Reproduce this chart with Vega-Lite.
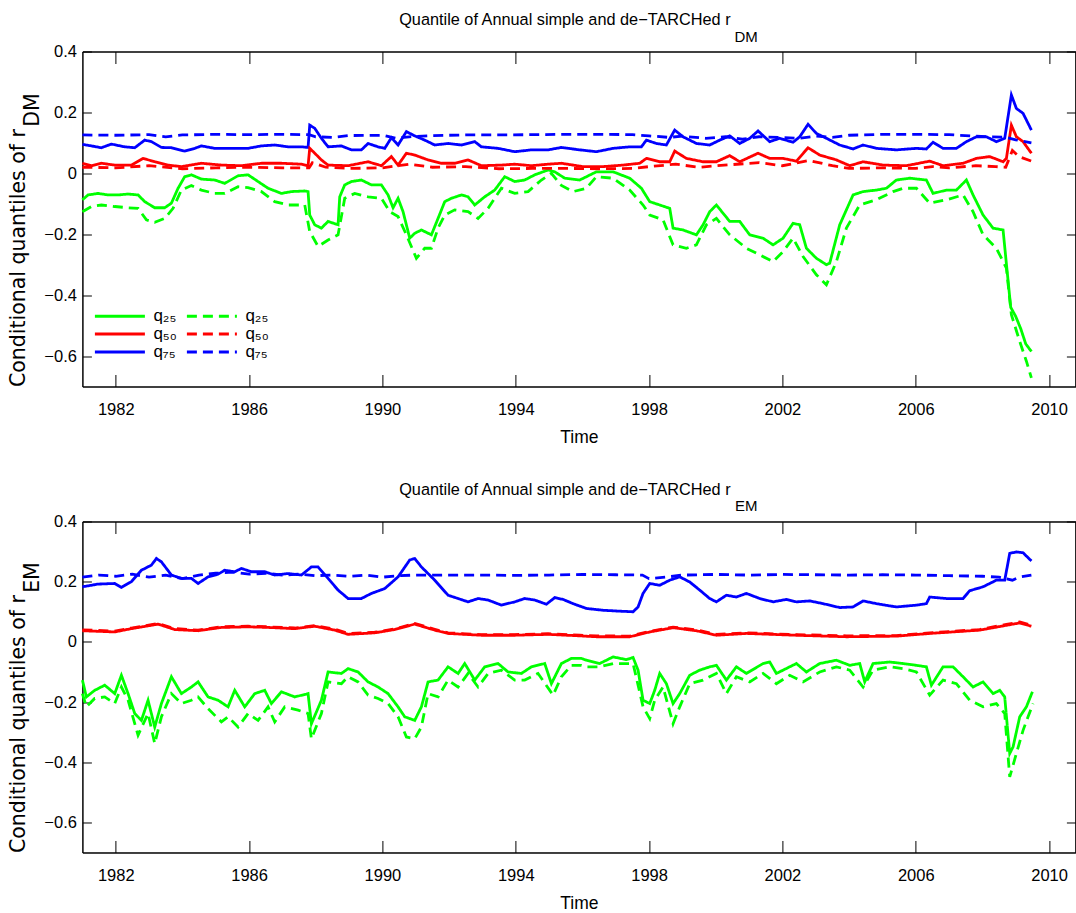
{
"$schema":"https://vega.github.io/schema/vega-lite/v6.json",
"background":"white",
"padding":{"left":7.4,"top":10.5,"right":0,"bottom":0},
"spacing":34,
"datasets":{"d":[
{"p":"DM","s":"q75","t":1981.0,"v":0.095},{"p":"DM","s":"q75","t":1981.27,"v":0.09},{"p":"DM","s":"q75","t":1981.57,"v":0.084},{"p":"DM","s":"q75","t":1981.87,"v":0.096},{"p":"DM","s":"q75","t":1982.27,"v":0.087},{"p":"DM","s":"q75","t":1982.57,"v":0.084},{"p":"DM","s":"q75","t":1982.87,"v":0.109},{"p":"DM","s":"q75","t":1983.07,"v":0.104},{"p":"DM","s":"q75","t":1983.37,"v":0.085},{"p":"DM","s":"q75","t":1983.67,"v":0.084},{"p":"DM","s":"q75","t":1984.07,"v":0.073},{"p":"DM","s":"q75","t":1984.37,"v":0.082},{"p":"DM","s":"q75","t":1984.57,"v":0.09},{"p":"DM","s":"q75","t":1984.97,"v":0.082},{"p":"DM","s":"q75","t":1985.47,"v":0.082},{"p":"DM","s":"q75","t":1985.97,"v":0.082},{"p":"DM","s":"q75","t":1986.37,"v":0.09},{"p":"DM","s":"q75","t":1986.77,"v":0.093},{"p":"DM","s":"q75","t":1987.17,"v":0.087},{"p":"DM","s":"q75","t":1987.57,"v":0.087},{"p":"DM","s":"q75","t":1987.77,"v":0.085},{"p":"DM","s":"q75","t":1987.82,"v":0.158},{"p":"DM","s":"q75","t":1987.97,"v":0.148},{"p":"DM","s":"q75","t":1988.17,"v":0.115},{"p":"DM","s":"q75","t":1988.37,"v":0.087},{"p":"DM","s":"q75","t":1988.77,"v":0.09},{"p":"DM","s":"q75","t":1989.07,"v":0.077},{"p":"DM","s":"q75","t":1989.37,"v":0.077},{"p":"DM","s":"q75","t":1989.57,"v":0.098},{"p":"DM","s":"q75","t":1989.87,"v":0.087},{"p":"DM","s":"q75","t":1990.07,"v":0.082},{"p":"DM","s":"q75","t":1990.27,"v":0.117},{"p":"DM","s":"q75","t":1990.47,"v":0.093},{"p":"DM","s":"q75","t":1990.72,"v":0.137},{"p":"DM","s":"q75","t":1990.97,"v":0.123},{"p":"DM","s":"q75","t":1991.27,"v":0.109},{"p":"DM","s":"q75","t":1991.57,"v":0.093},{"p":"DM","s":"q75","t":1991.97,"v":0.098},{"p":"DM","s":"q75","t":1992.37,"v":0.093},{"p":"DM","s":"q75","t":1992.77,"v":0.104},{"p":"DM","s":"q75","t":1992.97,"v":0.087},{"p":"DM","s":"q75","t":1993.47,"v":0.082},{"p":"DM","s":"q75","t":1993.97,"v":0.071},{"p":"DM","s":"q75","t":1994.47,"v":0.077},{"p":"DM","s":"q75","t":1994.97,"v":0.077},{"p":"DM","s":"q75","t":1995.37,"v":0.085},{"p":"DM","s":"q75","t":1995.92,"v":0.077},{"p":"DM","s":"q75","t":1996.42,"v":0.071},{"p":"DM","s":"q75","t":1996.92,"v":0.082},{"p":"DM","s":"q75","t":1997.42,"v":0.087},{"p":"DM","s":"q75","t":1997.77,"v":0.087},{"p":"DM","s":"q75","t":1997.92,"v":0.109},{"p":"DM","s":"q75","t":1998.22,"v":0.098},{"p":"DM","s":"q75","t":1998.52,"v":0.093},{"p":"DM","s":"q75","t":1998.77,"v":0.142},{"p":"DM","s":"q75","t":1999.02,"v":0.12},{"p":"DM","s":"q75","t":1999.42,"v":0.098},{"p":"DM","s":"q75","t":1999.82,"v":0.093},{"p":"DM","s":"q75","t":2000.12,"v":0.109},{"p":"DM","s":"q75","t":2000.42,"v":0.123},{"p":"DM","s":"q75","t":2000.72,"v":0.098},{"p":"DM","s":"q75","t":2001.02,"v":0.115},{"p":"DM","s":"q75","t":2001.27,"v":0.139},{"p":"DM","s":"q75","t":2001.62,"v":0.104},{"p":"DM","s":"q75","t":2001.92,"v":0.115},{"p":"DM","s":"q75","t":2002.32,"v":0.102},{"p":"DM","s":"q75","t":2002.52,"v":0.12},{"p":"DM","s":"q75","t":2002.77,"v":0.161},{"p":"DM","s":"q75","t":2003.02,"v":0.131},{"p":"DM","s":"q75","t":2003.32,"v":0.115},{"p":"DM","s":"q75","t":2003.72,"v":0.093},{"p":"DM","s":"q75","t":2004.12,"v":0.08},{"p":"DM","s":"q75","t":2004.42,"v":0.093},{"p":"DM","s":"q75","t":2004.82,"v":0.082},{"p":"DM","s":"q75","t":2005.42,"v":0.077},{"p":"DM","s":"q75","t":2006.02,"v":0.082},{"p":"DM","s":"q75","t":2006.32,"v":0.08},{"p":"DM","s":"q75","t":2006.52,"v":0.102},{"p":"DM","s":"q75","t":2006.82,"v":0.082},{"p":"DM","s":"q75","t":2007.22,"v":0.082},{"p":"DM","s":"q75","t":2007.52,"v":0.104},{"p":"DM","s":"q75","t":2007.82,"v":0.12},{"p":"DM","s":"q75","t":2008.12,"v":0.12},{"p":"DM","s":"q75","t":2008.42,"v":0.104},{"p":"DM","s":"q75","t":2008.67,"v":0.115},{"p":"DM","s":"q75","t":2008.87,"v":0.257},{"p":"DM","s":"q75","t":2009.02,"v":0.213},{"p":"DM","s":"q75","t":2009.22,"v":0.197},{"p":"DM","s":"q75","t":2009.47,"v":0.142},
{"p":"DM","s":"q75d","t":1981.0,"v":0.126},{"p":"DM","s":"q75d","t":1982.0,"v":0.125},{"p":"DM","s":"q75d","t":1983.0,"v":0.127},{"p":"DM","s":"q75d","t":1983.5,"v":0.12},{"p":"DM","s":"q75d","t":1984.0,"v":0.126},{"p":"DM","s":"q75d","t":1985.0,"v":0.128},{"p":"DM","s":"q75d","t":1986.0,"v":0.127},{"p":"DM","s":"q75d","t":1987.0,"v":0.128},{"p":"DM","s":"q75d","t":1987.8,"v":0.127},{"p":"DM","s":"q75d","t":1988.0,"v":0.12},{"p":"DM","s":"q75d","t":1988.5,"v":0.118},{"p":"DM","s":"q75d","t":1989.0,"v":0.124},{"p":"DM","s":"q75d","t":1990.0,"v":0.125},{"p":"DM","s":"q75d","t":1990.4,"v":0.115},{"p":"DM","s":"q75d","t":1990.8,"v":0.12},{"p":"DM","s":"q75d","t":1991.5,"v":0.124},{"p":"DM","s":"q75d","t":1992.5,"v":0.126},{"p":"DM","s":"q75d","t":1993.5,"v":0.126},{"p":"DM","s":"q75d","t":1994.5,"v":0.127},{"p":"DM","s":"q75d","t":1995.5,"v":0.128},{"p":"DM","s":"q75d","t":1996.5,"v":0.128},{"p":"DM","s":"q75d","t":1997.5,"v":0.127},{"p":"DM","s":"q75d","t":1998.0,"v":0.123},{"p":"DM","s":"q75d","t":1998.6,"v":0.118},{"p":"DM","s":"q75d","t":1999.0,"v":0.122},{"p":"DM","s":"q75d","t":1999.7,"v":0.115},{"p":"DM","s":"q75d","t":2000.3,"v":0.12},{"p":"DM","s":"q75d","t":2000.8,"v":0.112},{"p":"DM","s":"q75d","t":2001.3,"v":0.12},{"p":"DM","s":"q75d","t":2001.9,"v":0.118},{"p":"DM","s":"q75d","t":2002.5,"v":0.115},{"p":"DM","s":"q75d","t":2003.0,"v":0.122},{"p":"DM","s":"q75d","t":2003.5,"v":0.118},{"p":"DM","s":"q75d","t":2004.0,"v":0.125},{"p":"DM","s":"q75d","t":2005.0,"v":0.128},{"p":"DM","s":"q75d","t":2006.0,"v":0.128},{"p":"DM","s":"q75d","t":2007.0,"v":0.127},{"p":"DM","s":"q75d","t":2007.8,"v":0.122},{"p":"DM","s":"q75d","t":2008.3,"v":0.12},{"p":"DM","s":"q75d","t":2008.7,"v":0.118},{"p":"DM","s":"q75d","t":2009.0,"v":0.11},{"p":"DM","s":"q75d","t":2009.47,"v":0.1},
{"p":"DM","s":"q50","t":1981.0,"v":0.033},{"p":"DM","s":"q50","t":1981.27,"v":0.025},{"p":"DM","s":"q50","t":1981.57,"v":0.033},{"p":"DM","s":"q50","t":1981.97,"v":0.027},{"p":"DM","s":"q50","t":1982.47,"v":0.027},{"p":"DM","s":"q50","t":1982.82,"v":0.049},{"p":"DM","s":"q50","t":1983.17,"v":0.038},{"p":"DM","s":"q50","t":1983.57,"v":0.027},{"p":"DM","s":"q50","t":1983.97,"v":0.022},{"p":"DM","s":"q50","t":1984.57,"v":0.033},{"p":"DM","s":"q50","t":1985.17,"v":0.027},{"p":"DM","s":"q50","t":1985.77,"v":0.025},{"p":"DM","s":"q50","t":1986.37,"v":0.033},{"p":"DM","s":"q50","t":1986.97,"v":0.033},{"p":"DM","s":"q50","t":1987.57,"v":0.03},{"p":"DM","s":"q50","t":1987.77,"v":0.025},{"p":"DM","s":"q50","t":1987.82,"v":0.082},{"p":"DM","s":"q50","t":1987.97,"v":0.066},{"p":"DM","s":"q50","t":1988.17,"v":0.044},{"p":"DM","s":"q50","t":1988.37,"v":0.027},{"p":"DM","s":"q50","t":1988.97,"v":0.025},{"p":"DM","s":"q50","t":1989.57,"v":0.038},{"p":"DM","s":"q50","t":1989.97,"v":0.025},{"p":"DM","s":"q50","t":1990.27,"v":0.055},{"p":"DM","s":"q50","t":1990.47,"v":0.027},{"p":"DM","s":"q50","t":1990.72,"v":0.066},{"p":"DM","s":"q50","t":1990.97,"v":0.06},{"p":"DM","s":"q50","t":1991.37,"v":0.044},{"p":"DM","s":"q50","t":1991.77,"v":0.033},{"p":"DM","s":"q50","t":1992.17,"v":0.033},{"p":"DM","s":"q50","t":1992.57,"v":0.044},{"p":"DM","s":"q50","t":1992.97,"v":0.025},{"p":"DM","s":"q50","t":1993.57,"v":0.027},{"p":"DM","s":"q50","t":1993.97,"v":0.03},{"p":"DM","s":"q50","t":1994.47,"v":0.025},{"p":"DM","s":"q50","t":1994.97,"v":0.03},{"p":"DM","s":"q50","t":1995.37,"v":0.033},{"p":"DM","s":"q50","t":1996.02,"v":0.022},{"p":"DM","s":"q50","t":1996.62,"v":0.022},{"p":"DM","s":"q50","t":1997.22,"v":0.027},{"p":"DM","s":"q50","t":1997.72,"v":0.033},{"p":"DM","s":"q50","t":1997.92,"v":0.049},{"p":"DM","s":"q50","t":1998.32,"v":0.038},{"p":"DM","s":"q50","t":1998.62,"v":0.038},{"p":"DM","s":"q50","t":1998.77,"v":0.073},{"p":"DM","s":"q50","t":1999.12,"v":0.049},{"p":"DM","s":"q50","t":1999.62,"v":0.038},{"p":"DM","s":"q50","t":2000.02,"v":0.038},{"p":"DM","s":"q50","t":2000.42,"v":0.058},{"p":"DM","s":"q50","t":2000.72,"v":0.038},{"p":"DM","s":"q50","t":2001.27,"v":0.066},{"p":"DM","s":"q50","t":2001.62,"v":0.049},{"p":"DM","s":"q50","t":2002.02,"v":0.049},{"p":"DM","s":"q50","t":2002.42,"v":0.04},{"p":"DM","s":"q50","t":2002.77,"v":0.084},{"p":"DM","s":"q50","t":2003.12,"v":0.06},{"p":"DM","s":"q50","t":2003.62,"v":0.044},{"p":"DM","s":"q50","t":2004.02,"v":0.025},{"p":"DM","s":"q50","t":2004.42,"v":0.038},{"p":"DM","s":"q50","t":2005.02,"v":0.027},{"p":"DM","s":"q50","t":2005.72,"v":0.025},{"p":"DM","s":"q50","t":2006.42,"v":0.04},{"p":"DM","s":"q50","t":2006.82,"v":0.025},{"p":"DM","s":"q50","t":2007.42,"v":0.033},{"p":"DM","s":"q50","t":2007.82,"v":0.049},{"p":"DM","s":"q50","t":2008.22,"v":0.055},{"p":"DM","s":"q50","t":2008.62,"v":0.038},{"p":"DM","s":"q50","t":2008.72,"v":0.049},{"p":"DM","s":"q50","t":2008.87,"v":0.158},{"p":"DM","s":"q50","t":2009.02,"v":0.12},{"p":"DM","s":"q50","t":2009.22,"v":0.104},{"p":"DM","s":"q50","t":2009.47,"v":0.066},
{"p":"DM","s":"q50d","t":1981.0,"v":0.02},{"p":"DM","s":"q50d","t":1982.0,"v":0.018},{"p":"DM","s":"q50d","t":1983.0,"v":0.025},{"p":"DM","s":"q50d","t":1984.0,"v":0.015},{"p":"DM","s":"q50d","t":1985.0,"v":0.018},{"p":"DM","s":"q50d","t":1986.0,"v":0.02},{"p":"DM","s":"q50d","t":1987.0,"v":0.018},{"p":"DM","s":"q50d","t":1987.8,"v":0.018},{"p":"DM","s":"q50d","t":1987.9,"v":0.035},{"p":"DM","s":"q50d","t":1988.3,"v":0.02},{"p":"DM","s":"q50d","t":1989.0,"v":0.016},{"p":"DM","s":"q50d","t":1990.0,"v":0.018},{"p":"DM","s":"q50d","t":1990.8,"v":0.03},{"p":"DM","s":"q50d","t":1991.5,"v":0.02},{"p":"DM","s":"q50d","t":1992.5,"v":0.022},{"p":"DM","s":"q50d","t":1993.5,"v":0.015},{"p":"DM","s":"q50d","t":1994.5,"v":0.016},{"p":"DM","s":"q50d","t":1995.5,"v":0.016},{"p":"DM","s":"q50d","t":1996.5,"v":0.015},{"p":"DM","s":"q50d","t":1997.5,"v":0.016},{"p":"DM","s":"q50d","t":1998.0,"v":0.022},{"p":"DM","s":"q50d","t":1998.8,"v":0.03},{"p":"DM","s":"q50d","t":1999.5,"v":0.02},{"p":"DM","s":"q50d","t":2000.4,"v":0.028},{"p":"DM","s":"q50d","t":2001.3,"v":0.035},{"p":"DM","s":"q50d","t":2002.0,"v":0.025},{"p":"DM","s":"q50d","t":2002.8,"v":0.042},{"p":"DM","s":"q50d","t":2003.5,"v":0.025},{"p":"DM","s":"q50d","t":2004.0,"v":0.016},{"p":"DM","s":"q50d","t":2005.0,"v":0.018},{"p":"DM","s":"q50d","t":2006.0,"v":0.016},{"p":"DM","s":"q50d","t":2006.5,"v":0.022},{"p":"DM","s":"q50d","t":2007.0,"v":0.018},{"p":"DM","s":"q50d","t":2007.8,"v":0.025},{"p":"DM","s":"q50d","t":2008.4,"v":0.022},{"p":"DM","s":"q50d","t":2008.7,"v":0.02},{"p":"DM","s":"q50d","t":2008.9,"v":0.075},{"p":"DM","s":"q50d","t":2009.1,"v":0.055},{"p":"DM","s":"q50d","t":2009.47,"v":0.04},
{"p":"DM","s":"q25","t":1981.0,"v":-0.087},{"p":"DM","s":"q25","t":1981.17,"v":-0.071},{"p":"DM","s":"q25","t":1981.47,"v":-0.066},{"p":"DM","s":"q25","t":1981.77,"v":-0.071},{"p":"DM","s":"q25","t":1982.07,"v":-0.071},{"p":"DM","s":"q25","t":1982.37,"v":-0.068},{"p":"DM","s":"q25","t":1982.67,"v":-0.071},{"p":"DM","s":"q25","t":1982.87,"v":-0.093},{"p":"DM","s":"q25","t":1983.17,"v":-0.113},{"p":"DM","s":"q25","t":1983.47,"v":-0.113},{"p":"DM","s":"q25","t":1983.67,"v":-0.098},{"p":"DM","s":"q25","t":1983.87,"v":-0.049},{"p":"DM","s":"q25","t":1984.07,"v":-0.011},{"p":"DM","s":"q25","t":1984.27,"v":-0.005},{"p":"DM","s":"q25","t":1984.57,"v":-0.019},{"p":"DM","s":"q25","t":1984.97,"v":-0.022},{"p":"DM","s":"q25","t":1985.27,"v":-0.033},{"p":"DM","s":"q25","t":1985.67,"v":-0.008},{"p":"DM","s":"q25","t":1985.97,"v":-0.005},{"p":"DM","s":"q25","t":1986.27,"v":-0.027},{"p":"DM","s":"q25","t":1986.57,"v":-0.049},{"p":"DM","s":"q25","t":1986.97,"v":-0.066},{"p":"DM","s":"q25","t":1987.27,"v":-0.06},{"p":"DM","s":"q25","t":1987.67,"v":-0.058},{"p":"DM","s":"q25","t":1987.77,"v":-0.06},{"p":"DM","s":"q25","t":1987.82,"v":-0.137},{"p":"DM","s":"q25","t":1987.97,"v":-0.169},{"p":"DM","s":"q25","t":1988.17,"v":-0.18},{"p":"DM","s":"q25","t":1988.37,"v":-0.158},{"p":"DM","s":"q25","t":1988.67,"v":-0.169},{"p":"DM","s":"q25","t":1988.72,"v":-0.077},{"p":"DM","s":"q25","t":1988.87,"v":-0.038},{"p":"DM","s":"q25","t":1989.07,"v":-0.027},{"p":"DM","s":"q25","t":1989.37,"v":-0.022},{"p":"DM","s":"q25","t":1989.67,"v":-0.038},{"p":"DM","s":"q25","t":1989.97,"v":-0.038},{"p":"DM","s":"q25","t":1990.17,"v":-0.071},{"p":"DM","s":"q25","t":1990.32,"v":-0.113},{"p":"DM","s":"q25","t":1990.47,"v":-0.082},{"p":"DM","s":"q25","t":1990.62,"v":-0.126},{"p":"DM","s":"q25","t":1990.82,"v":-0.213},{"p":"DM","s":"q25","t":1990.97,"v":-0.197},{"p":"DM","s":"q25","t":1991.17,"v":-0.186},{"p":"DM","s":"q25","t":1991.47,"v":-0.202},{"p":"DM","s":"q25","t":1991.67,"v":-0.148},{"p":"DM","s":"q25","t":1991.87,"v":-0.093},{"p":"DM","s":"q25","t":1992.07,"v":-0.082},{"p":"DM","s":"q25","t":1992.37,"v":-0.071},{"p":"DM","s":"q25","t":1992.57,"v":-0.077},{"p":"DM","s":"q25","t":1992.77,"v":-0.104},{"p":"DM","s":"q25","t":1993.07,"v":-0.077},{"p":"DM","s":"q25","t":1993.37,"v":-0.055},{"p":"DM","s":"q25","t":1993.67,"v":-0.011},{"p":"DM","s":"q25","t":1993.97,"v":-0.027},{"p":"DM","s":"q25","t":1994.27,"v":-0.022},{"p":"DM","s":"q25","t":1994.57,"v":-0.005},{"p":"DM","s":"q25","t":1994.97,"v":0.011},{"p":"DM","s":"q25","t":1995.17,"v":0.005},{"p":"DM","s":"q25","t":1995.47,"v":-0.016},{"p":"DM","s":"q25","t":1995.92,"v":-0.022},{"p":"DM","s":"q25","t":1996.42,"v":0.005},{"p":"DM","s":"q25","t":1996.92,"v":0.005},{"p":"DM","s":"q25","t":1997.42,"v":-0.016},{"p":"DM","s":"q25","t":1997.77,"v":-0.049},{"p":"DM","s":"q25","t":1998.02,"v":-0.093},{"p":"DM","s":"q25","t":1998.32,"v":-0.104},{"p":"DM","s":"q25","t":1998.62,"v":-0.115},{"p":"DM","s":"q25","t":1998.72,"v":-0.18},{"p":"DM","s":"q25","t":1999.02,"v":-0.186},{"p":"DM","s":"q25","t":1999.42,"v":-0.202},{"p":"DM","s":"q25","t":1999.62,"v":-0.169},{"p":"DM","s":"q25","t":1999.82,"v":-0.126},{"p":"DM","s":"q25","t":2000.02,"v":-0.104},{"p":"DM","s":"q25","t":2000.42,"v":-0.158},{"p":"DM","s":"q25","t":2000.72,"v":-0.158},{"p":"DM","s":"q25","t":2001.02,"v":-0.202},{"p":"DM","s":"q25","t":2001.42,"v":-0.213},{"p":"DM","s":"q25","t":2001.72,"v":-0.235},{"p":"DM","s":"q25","t":2002.02,"v":-0.213},{"p":"DM","s":"q25","t":2002.32,"v":-0.164},{"p":"DM","s":"q25","t":2002.52,"v":-0.169},{"p":"DM","s":"q25","t":2002.72,"v":-0.246},{"p":"DM","s":"q25","t":2003.02,"v":-0.279},{"p":"DM","s":"q25","t":2003.32,"v":-0.3},{"p":"DM","s":"q25","t":2003.42,"v":-0.295},{"p":"DM","s":"q25","t":2003.72,"v":-0.169},{"p":"DM","s":"q25","t":2004.12,"v":-0.071},{"p":"DM","s":"q25","t":2004.42,"v":-0.06},{"p":"DM","s":"q25","t":2004.82,"v":-0.055},{"p":"DM","s":"q25","t":2005.12,"v":-0.049},{"p":"DM","s":"q25","t":2005.42,"v":-0.022},{"p":"DM","s":"q25","t":2005.82,"v":-0.016},{"p":"DM","s":"q25","t":2006.32,"v":-0.022},{"p":"DM","s":"q25","t":2006.52,"v":-0.066},{"p":"DM","s":"q25","t":2006.92,"v":-0.055},{"p":"DM","s":"q25","t":2007.22,"v":-0.055},{"p":"DM","s":"q25","t":2007.52,"v":-0.022},{"p":"DM","s":"q25","t":2007.72,"v":-0.071},{"p":"DM","s":"q25","t":2008.02,"v":-0.137},{"p":"DM","s":"q25","t":2008.32,"v":-0.18},{"p":"DM","s":"q25","t":2008.62,"v":-0.186},{"p":"DM","s":"q25","t":2008.75,"v":-0.33},{"p":"DM","s":"q25","t":2008.85,"v":-0.44},{"p":"DM","s":"q25","t":2009.0,"v":-0.47},{"p":"DM","s":"q25","t":2009.15,"v":-0.51},{"p":"DM","s":"q25","t":2009.3,"v":-0.56},{"p":"DM","s":"q25","t":2009.47,"v":-0.585},
{"p":"DM","s":"q25d","t":1981.0,"v":-0.126},{"p":"DM","s":"q25d","t":1981.27,"v":-0.109},{"p":"DM","s":"q25d","t":1981.57,"v":-0.104},{"p":"DM","s":"q25d","t":1981.97,"v":-0.109},{"p":"DM","s":"q25d","t":1982.37,"v":-0.113},{"p":"DM","s":"q25d","t":1982.67,"v":-0.115},{"p":"DM","s":"q25d","t":1982.92,"v":-0.153},{"p":"DM","s":"q25d","t":1983.17,"v":-0.161},{"p":"DM","s":"q25d","t":1983.47,"v":-0.148},{"p":"DM","s":"q25d","t":1983.72,"v":-0.115},{"p":"DM","s":"q25d","t":1983.97,"v":-0.055},{"p":"DM","s":"q25d","t":1984.27,"v":-0.04},{"p":"DM","s":"q25d","t":1984.57,"v":-0.055},{"p":"DM","s":"q25d","t":1984.97,"v":-0.066},{"p":"DM","s":"q25d","t":1985.27,"v":-0.066},{"p":"DM","s":"q25d","t":1985.67,"v":-0.044},{"p":"DM","s":"q25d","t":1985.97,"v":-0.047},{"p":"DM","s":"q25d","t":1986.37,"v":-0.06},{"p":"DM","s":"q25d","t":1986.77,"v":-0.093},{"p":"DM","s":"q25d","t":1987.17,"v":-0.104},{"p":"DM","s":"q25d","t":1987.67,"v":-0.104},{"p":"DM","s":"q25d","t":1987.82,"v":-0.191},{"p":"DM","s":"q25d","t":1988.07,"v":-0.24},{"p":"DM","s":"q25d","t":1988.37,"v":-0.219},{"p":"DM","s":"q25d","t":1988.67,"v":-0.202},{"p":"DM","s":"q25d","t":1988.87,"v":-0.082},{"p":"DM","s":"q25d","t":1989.17,"v":-0.066},{"p":"DM","s":"q25d","t":1989.57,"v":-0.077},{"p":"DM","s":"q25d","t":1989.97,"v":-0.082},{"p":"DM","s":"q25d","t":1990.22,"v":-0.126},{"p":"DM","s":"q25d","t":1990.47,"v":-0.142},{"p":"DM","s":"q25d","t":1990.72,"v":-0.202},{"p":"DM","s":"q25d","t":1991.02,"v":-0.279},{"p":"DM","s":"q25d","t":1991.27,"v":-0.246},{"p":"DM","s":"q25d","t":1991.47,"v":-0.246},{"p":"DM","s":"q25d","t":1991.67,"v":-0.18},{"p":"DM","s":"q25d","t":1991.87,"v":-0.137},{"p":"DM","s":"q25d","t":1992.17,"v":-0.12},{"p":"DM","s":"q25d","t":1992.57,"v":-0.126},{"p":"DM","s":"q25d","t":1992.87,"v":-0.148},{"p":"DM","s":"q25d","t":1993.17,"v":-0.115},{"p":"DM","s":"q25d","t":1993.57,"v":-0.049},{"p":"DM","s":"q25d","t":1993.97,"v":-0.066},{"p":"DM","s":"q25d","t":1994.37,"v":-0.06},{"p":"DM","s":"q25d","t":1994.77,"v":-0.022},{"p":"DM","s":"q25d","t":1995.07,"v":0.0},{"p":"DM","s":"q25d","t":1995.37,"v":-0.04},{"p":"DM","s":"q25d","t":1995.72,"v":-0.06},{"p":"DM","s":"q25d","t":1996.12,"v":-0.049},{"p":"DM","s":"q25d","t":1996.42,"v":-0.011},{"p":"DM","s":"q25d","t":1996.92,"v":-0.016},{"p":"DM","s":"q25d","t":1997.42,"v":-0.055},{"p":"DM","s":"q25d","t":1997.82,"v":-0.104},{"p":"DM","s":"q25d","t":1998.02,"v":-0.137},{"p":"DM","s":"q25d","t":1998.42,"v":-0.153},{"p":"DM","s":"q25d","t":1998.72,"v":-0.235},{"p":"DM","s":"q25d","t":1999.12,"v":-0.246},{"p":"DM","s":"q25d","t":1999.42,"v":-0.235},{"p":"DM","s":"q25d","t":1999.72,"v":-0.169},{"p":"DM","s":"q25d","t":2000.02,"v":-0.148},{"p":"DM","s":"q25d","t":2000.42,"v":-0.202},{"p":"DM","s":"q25d","t":2000.92,"v":-0.246},{"p":"DM","s":"q25d","t":2001.32,"v":-0.268},{"p":"DM","s":"q25d","t":2001.72,"v":-0.29},{"p":"DM","s":"q25d","t":2002.02,"v":-0.257},{"p":"DM","s":"q25d","t":2002.32,"v":-0.213},{"p":"DM","s":"q25d","t":2002.62,"v":-0.273},{"p":"DM","s":"q25d","t":2003.02,"v":-0.333},{"p":"DM","s":"q25d","t":2003.32,"v":-0.366},{"p":"DM","s":"q25d","t":2003.62,"v":-0.29},{"p":"DM","s":"q25d","t":2003.92,"v":-0.18},{"p":"DM","s":"q25d","t":2004.32,"v":-0.104},{"p":"DM","s":"q25d","t":2004.82,"v":-0.087},{"p":"DM","s":"q25d","t":2005.32,"v":-0.06},{"p":"DM","s":"q25d","t":2005.62,"v":-0.049},{"p":"DM","s":"q25d","t":2006.02,"v":-0.049},{"p":"DM","s":"q25d","t":2006.42,"v":-0.098},{"p":"DM","s":"q25d","t":2006.92,"v":-0.087},{"p":"DM","s":"q25d","t":2007.42,"v":-0.071},{"p":"DM","s":"q25d","t":2007.72,"v":-0.126},{"p":"DM","s":"q25d","t":2008.02,"v":-0.202},{"p":"DM","s":"q25d","t":2008.42,"v":-0.246},{"p":"DM","s":"q25d","t":2008.72,"v":-0.311},{"p":"DM","s":"q25d","t":2008.87,"v":-0.464},{"p":"DM","s":"q25d","t":2009.12,"v":-0.552},{"p":"DM","s":"q25d","t":2009.32,"v":-0.617},{"p":"DM","s":"q25d","t":2009.47,"v":-0.672},
{"p":"EM","s":"q75","t":1981.0,"v":0.183},{"p":"EM","s":"q75","t":1981.47,"v":0.192},{"p":"EM","s":"q75","t":1981.97,"v":0.194},{"p":"EM","s":"q75","t":1982.17,"v":0.181},{"p":"EM","s":"q75","t":1982.47,"v":0.2},{"p":"EM","s":"q75","t":1982.77,"v":0.238},{"p":"EM","s":"q75","t":1983.07,"v":0.255},{"p":"EM","s":"q75","t":1983.22,"v":0.277},{"p":"EM","s":"q75","t":1983.37,"v":0.266},{"p":"EM","s":"q75","t":1983.67,"v":0.222},{"p":"EM","s":"q75","t":1983.97,"v":0.211},{"p":"EM","s":"q75","t":1984.27,"v":0.211},{"p":"EM","s":"q75","t":1984.47,"v":0.194},{"p":"EM","s":"q75","t":1984.77,"v":0.216},{"p":"EM","s":"q75","t":1985.07,"v":0.225},{"p":"EM","s":"q75","t":1985.27,"v":0.238},{"p":"EM","s":"q75","t":1985.57,"v":0.233},{"p":"EM","s":"q75","t":1985.77,"v":0.244},{"p":"EM","s":"q75","t":1986.07,"v":0.233},{"p":"EM","s":"q75","t":1986.47,"v":0.233},{"p":"EM","s":"q75","t":1986.77,"v":0.222},{"p":"EM","s":"q75","t":1987.17,"v":0.227},{"p":"EM","s":"q75","t":1987.57,"v":0.222},{"p":"EM","s":"q75","t":1987.87,"v":0.249},{"p":"EM","s":"q75","t":1988.07,"v":0.249},{"p":"EM","s":"q75","t":1988.37,"v":0.211},{"p":"EM","s":"q75","t":1988.67,"v":0.172},{"p":"EM","s":"q75","t":1988.97,"v":0.144},{"p":"EM","s":"q75","t":1989.37,"v":0.144},{"p":"EM","s":"q75","t":1989.67,"v":0.161},{"p":"EM","s":"q75","t":1990.07,"v":0.177},{"p":"EM","s":"q75","t":1990.47,"v":0.216},{"p":"EM","s":"q75","t":1990.82,"v":0.272},{"p":"EM","s":"q75","t":1990.97,"v":0.277},{"p":"EM","s":"q75","t":1991.17,"v":0.249},{"p":"EM","s":"q75","t":1991.57,"v":0.205},{"p":"EM","s":"q75","t":1991.97,"v":0.155},{"p":"EM","s":"q75","t":1992.27,"v":0.144},{"p":"EM","s":"q75","t":1992.57,"v":0.133},{"p":"EM","s":"q75","t":1992.87,"v":0.144},{"p":"EM","s":"q75","t":1993.17,"v":0.139},{"p":"EM","s":"q75","t":1993.57,"v":0.122},{"p":"EM","s":"q75","t":1993.97,"v":0.133},{"p":"EM","s":"q75","t":1994.27,"v":0.144},{"p":"EM","s":"q75","t":1994.57,"v":0.139},{"p":"EM","s":"q75","t":1994.92,"v":0.125},{"p":"EM","s":"q75","t":1995.17,"v":0.147},{"p":"EM","s":"q75","t":1995.42,"v":0.141},{"p":"EM","s":"q75","t":1995.72,"v":0.127},{"p":"EM","s":"q75","t":1996.12,"v":0.111},{"p":"EM","s":"q75","t":1996.62,"v":0.105},{"p":"EM","s":"q75","t":1997.12,"v":0.102},{"p":"EM","s":"q75","t":1997.52,"v":0.1},{"p":"EM","s":"q75","t":1997.67,"v":0.116},{"p":"EM","s":"q75","t":1997.82,"v":0.161},{"p":"EM","s":"q75","t":1998.02,"v":0.194},{"p":"EM","s":"q75","t":1998.32,"v":0.188},{"p":"EM","s":"q75","t":1998.62,"v":0.205},{"p":"EM","s":"q75","t":1998.92,"v":0.216},{"p":"EM","s":"q75","t":1999.22,"v":0.199},{"p":"EM","s":"q75","t":1999.52,"v":0.172},{"p":"EM","s":"q75","t":1999.82,"v":0.144},{"p":"EM","s":"q75","t":2000.02,"v":0.133},{"p":"EM","s":"q75","t":2000.32,"v":0.155},{"p":"EM","s":"q75","t":2000.62,"v":0.149},{"p":"EM","s":"q75","t":2000.92,"v":0.161},{"p":"EM","s":"q75","t":2001.32,"v":0.144},{"p":"EM","s":"q75","t":2001.72,"v":0.133},{"p":"EM","s":"q75","t":2002.12,"v":0.141},{"p":"EM","s":"q75","t":2002.42,"v":0.133},{"p":"EM","s":"q75","t":2002.82,"v":0.136},{"p":"EM","s":"q75","t":2003.22,"v":0.127},{"p":"EM","s":"q75","t":2003.72,"v":0.114},{"p":"EM","s":"q75","t":2004.12,"v":0.116},{"p":"EM","s":"q75","t":2004.42,"v":0.136},{"p":"EM","s":"q75","t":2004.82,"v":0.127},{"p":"EM","s":"q75","t":2005.42,"v":0.116},{"p":"EM","s":"q75","t":2006.02,"v":0.122},{"p":"EM","s":"q75","t":2006.32,"v":0.127},{"p":"EM","s":"q75","t":2006.42,"v":0.149},{"p":"EM","s":"q75","t":2006.92,"v":0.144},{"p":"EM","s":"q75","t":2007.42,"v":0.144},{"p":"EM","s":"q75","t":2007.62,"v":0.17},{"p":"EM","s":"q75","t":2008.02,"v":0.183},{"p":"EM","s":"q75","t":2008.42,"v":0.205},{"p":"EM","s":"q75","t":2008.67,"v":0.205},{"p":"EM","s":"q75","t":2008.82,"v":0.294},{"p":"EM","s":"q75","t":2009.02,"v":0.299},{"p":"EM","s":"q75","t":2009.22,"v":0.296},{"p":"EM","s":"q75","t":2009.47,"v":0.269},
{"p":"EM","s":"q75d","t":1981.0,"v":0.215},{"p":"EM","s":"q75d","t":1981.5,"v":0.222},{"p":"EM","s":"q75d","t":1982.0,"v":0.218},{"p":"EM","s":"q75d","t":1982.5,"v":0.225},{"p":"EM","s":"q75d","t":1983.0,"v":0.215},{"p":"EM","s":"q75d","t":1983.5,"v":0.222},{"p":"EM","s":"q75d","t":1984.0,"v":0.21},{"p":"EM","s":"q75d","t":1984.5,"v":0.222},{"p":"EM","s":"q75d","t":1985.0,"v":0.228},{"p":"EM","s":"q75d","t":1985.5,"v":0.232},{"p":"EM","s":"q75d","t":1986.0,"v":0.225},{"p":"EM","s":"q75d","t":1986.5,"v":0.228},{"p":"EM","s":"q75d","t":1987.0,"v":0.222},{"p":"EM","s":"q75d","t":1987.5,"v":0.225},{"p":"EM","s":"q75d","t":1988.0,"v":0.22},{"p":"EM","s":"q75d","t":1988.5,"v":0.222},{"p":"EM","s":"q75d","t":1989.0,"v":0.218},{"p":"EM","s":"q75d","t":1989.5,"v":0.222},{"p":"EM","s":"q75d","t":1990.0,"v":0.215},{"p":"EM","s":"q75d","t":1990.5,"v":0.22},{"p":"EM","s":"q75d","t":1991.0,"v":0.222},{"p":"EM","s":"q75d","t":1992.0,"v":0.222},{"p":"EM","s":"q75d","t":1993.0,"v":0.222},{"p":"EM","s":"q75d","t":1994.0,"v":0.221},{"p":"EM","s":"q75d","t":1995.0,"v":0.222},{"p":"EM","s":"q75d","t":1996.0,"v":0.224},{"p":"EM","s":"q75d","t":1997.0,"v":0.223},{"p":"EM","s":"q75d","t":1997.8,"v":0.222},{"p":"EM","s":"q75d","t":1998.0,"v":0.21},{"p":"EM","s":"q75d","t":1998.5,"v":0.215},{"p":"EM","s":"q75d","t":1999.0,"v":0.222},{"p":"EM","s":"q75d","t":2000.0,"v":0.224},{"p":"EM","s":"q75d","t":2001.0,"v":0.222},{"p":"EM","s":"q75d","t":2002.0,"v":0.224},{"p":"EM","s":"q75d","t":2003.0,"v":0.223},{"p":"EM","s":"q75d","t":2004.0,"v":0.222},{"p":"EM","s":"q75d","t":2005.0,"v":0.223},{"p":"EM","s":"q75d","t":2006.0,"v":0.222},{"p":"EM","s":"q75d","t":2007.0,"v":0.22},{"p":"EM","s":"q75d","t":2008.0,"v":0.218},{"p":"EM","s":"q75d","t":2008.5,"v":0.215},{"p":"EM","s":"q75d","t":2008.9,"v":0.205},{"p":"EM","s":"q75d","t":2009.1,"v":0.215},{"p":"EM","s":"q75d","t":2009.47,"v":0.222},
{"p":"EM","s":"q50","t":1981.0,"v":0.037},{"p":"EM","s":"q50","t":1981.97,"v":0.033},{"p":"EM","s":"q50","t":1982.47,"v":0.044},{"p":"EM","s":"q50","t":1983.27,"v":0.059},{"p":"EM","s":"q50","t":1983.77,"v":0.041},{"p":"EM","s":"q50","t":1984.47,"v":0.037},{"p":"EM","s":"q50","t":1985.17,"v":0.048},{"p":"EM","s":"q50","t":1985.97,"v":0.05},{"p":"EM","s":"q50","t":1986.57,"v":0.048},{"p":"EM","s":"q50","t":1987.37,"v":0.044},{"p":"EM","s":"q50","t":1987.97,"v":0.052},{"p":"EM","s":"q50","t":1988.57,"v":0.039},{"p":"EM","s":"q50","t":1988.97,"v":0.025},{"p":"EM","s":"q50","t":1989.77,"v":0.03},{"p":"EM","s":"q50","t":1990.37,"v":0.041},{"p":"EM","s":"q50","t":1990.97,"v":0.059},{"p":"EM","s":"q50","t":1991.57,"v":0.039},{"p":"EM","s":"q50","t":1991.97,"v":0.028},{"p":"EM","s":"q50","t":1992.97,"v":0.022},{"p":"EM","s":"q50","t":1993.97,"v":0.022},{"p":"EM","s":"q50","t":1994.97,"v":0.025},{"p":"EM","s":"q50","t":1995.92,"v":0.02},{"p":"EM","s":"q50","t":1996.42,"v":0.017},{"p":"EM","s":"q50","t":1997.42,"v":0.017},{"p":"EM","s":"q50","t":1998.02,"v":0.033},{"p":"EM","s":"q50","t":1998.72,"v":0.047},{"p":"EM","s":"q50","t":1999.42,"v":0.037},{"p":"EM","s":"q50","t":2000.02,"v":0.022},{"p":"EM","s":"q50","t":2000.92,"v":0.028},{"p":"EM","s":"q50","t":2002.42,"v":0.022},{"p":"EM","s":"q50","t":2003.92,"v":0.017},{"p":"EM","s":"q50","t":2005.42,"v":0.019},{"p":"EM","s":"q50","t":2006.42,"v":0.028},{"p":"EM","s":"q50","t":2007.92,"v":0.039},{"p":"EM","s":"q50","t":2008.72,"v":0.055},{"p":"EM","s":"q50","t":2009.12,"v":0.063},{"p":"EM","s":"q50","t":2009.47,"v":0.052},
{"p":"EM","s":"q50d","t":1981.0,"v":0.04},{"p":"EM","s":"q50d","t":1981.97,"v":0.036},{"p":"EM","s":"q50d","t":1982.47,"v":0.046},{"p":"EM","s":"q50d","t":1983.27,"v":0.061},{"p":"EM","s":"q50d","t":1983.77,"v":0.044},{"p":"EM","s":"q50d","t":1984.47,"v":0.039},{"p":"EM","s":"q50d","t":1985.17,"v":0.05},{"p":"EM","s":"q50d","t":1985.97,"v":0.052},{"p":"EM","s":"q50d","t":1986.57,"v":0.05},{"p":"EM","s":"q50d","t":1987.37,"v":0.046},{"p":"EM","s":"q50d","t":1987.97,"v":0.054},{"p":"EM","s":"q50d","t":1988.57,"v":0.042},{"p":"EM","s":"q50d","t":1988.97,"v":0.028},{"p":"EM","s":"q50d","t":1989.77,"v":0.032},{"p":"EM","s":"q50d","t":1990.37,"v":0.043},{"p":"EM","s":"q50d","t":1990.97,"v":0.061},{"p":"EM","s":"q50d","t":1991.57,"v":0.042},{"p":"EM","s":"q50d","t":1991.97,"v":0.03},{"p":"EM","s":"q50d","t":1992.97,"v":0.024},{"p":"EM","s":"q50d","t":1993.97,"v":0.024},{"p":"EM","s":"q50d","t":1994.97,"v":0.027},{"p":"EM","s":"q50d","t":1995.92,"v":0.022},{"p":"EM","s":"q50d","t":1996.42,"v":0.02},{"p":"EM","s":"q50d","t":1997.42,"v":0.019},{"p":"EM","s":"q50d","t":1998.02,"v":0.035},{"p":"EM","s":"q50d","t":1998.72,"v":0.049},{"p":"EM","s":"q50d","t":1999.42,"v":0.04},{"p":"EM","s":"q50d","t":2000.02,"v":0.025},{"p":"EM","s":"q50d","t":2000.92,"v":0.03},{"p":"EM","s":"q50d","t":2002.42,"v":0.024},{"p":"EM","s":"q50d","t":2003.92,"v":0.02},{"p":"EM","s":"q50d","t":2005.42,"v":0.021},{"p":"EM","s":"q50d","t":2006.42,"v":0.03},{"p":"EM","s":"q50d","t":2007.92,"v":0.041},{"p":"EM","s":"q50d","t":2008.72,"v":0.058},{"p":"EM","s":"q50d","t":2009.12,"v":0.066},{"p":"EM","s":"q50d","t":2009.47,"v":0.055},
{"p":"EM","s":"q25","t":1981.0,"v":-0.127},{"p":"EM","s":"q25","t":1981.12,"v":-0.183},{"p":"EM","s":"q25","t":1981.37,"v":-0.161},{"p":"EM","s":"q25","t":1981.67,"v":-0.144},{"p":"EM","s":"q25","t":1981.97,"v":-0.172},{"p":"EM","s":"q25","t":1982.17,"v":-0.111},{"p":"EM","s":"q25","t":1982.37,"v":-0.172},{"p":"EM","s":"q25","t":1982.57,"v":-0.238},{"p":"EM","s":"q25","t":1982.77,"v":-0.261},{"p":"EM","s":"q25","t":1982.97,"v":-0.194},{"p":"EM","s":"q25","t":1983.17,"v":-0.283},{"p":"EM","s":"q25","t":1983.37,"v":-0.205},{"p":"EM","s":"q25","t":1983.67,"v":-0.116},{"p":"EM","s":"q25","t":1983.97,"v":-0.172},{"p":"EM","s":"q25","t":1984.27,"v":-0.15},{"p":"EM","s":"q25","t":1984.47,"v":-0.133},{"p":"EM","s":"q25","t":1984.77,"v":-0.183},{"p":"EM","s":"q25","t":1985.07,"v":-0.194},{"p":"EM","s":"q25","t":1985.37,"v":-0.216},{"p":"EM","s":"q25","t":1985.57,"v":-0.161},{"p":"EM","s":"q25","t":1985.87,"v":-0.216},{"p":"EM","s":"q25","t":1986.17,"v":-0.172},{"p":"EM","s":"q25","t":1986.47,"v":-0.161},{"p":"EM","s":"q25","t":1986.67,"v":-0.205},{"p":"EM","s":"q25","t":1986.97,"v":-0.166},{"p":"EM","s":"q25","t":1987.37,"v":-0.183},{"p":"EM","s":"q25","t":1987.77,"v":-0.172},{"p":"EM","s":"q25","t":1987.87,"v":-0.272},{"p":"EM","s":"q25","t":1988.17,"v":-0.194},{"p":"EM","s":"q25","t":1988.37,"v":-0.1},{"p":"EM","s":"q25","t":1988.77,"v":-0.105},{"p":"EM","s":"q25","t":1988.97,"v":-0.089},{"p":"EM","s":"q25","t":1989.27,"v":-0.1},{"p":"EM","s":"q25","t":1989.57,"v":-0.133},{"p":"EM","s":"q25","t":1989.87,"v":-0.15},{"p":"EM","s":"q25","t":1990.17,"v":-0.172},{"p":"EM","s":"q25","t":1990.47,"v":-0.216},{"p":"EM","s":"q25","t":1990.67,"v":-0.249},{"p":"EM","s":"q25","t":1990.97,"v":-0.261},{"p":"EM","s":"q25","t":1991.17,"v":-0.216},{"p":"EM","s":"q25","t":1991.37,"v":-0.133},{"p":"EM","s":"q25","t":1991.67,"v":-0.127},{"p":"EM","s":"q25","t":1991.97,"v":-0.083},{"p":"EM","s":"q25","t":1992.27,"v":-0.105},{"p":"EM","s":"q25","t":1992.47,"v":-0.072},{"p":"EM","s":"q25","t":1992.77,"v":-0.127},{"p":"EM","s":"q25","t":1993.07,"v":-0.083},{"p":"EM","s":"q25","t":1993.47,"v":-0.072},{"p":"EM","s":"q25","t":1993.77,"v":-0.1},{"p":"EM","s":"q25","t":1994.17,"v":-0.105},{"p":"EM","s":"q25","t":1994.47,"v":-0.083},{"p":"EM","s":"q25","t":1994.87,"v":-0.072},{"p":"EM","s":"q25","t":1995.07,"v":-0.139},{"p":"EM","s":"q25","t":1995.37,"v":-0.072},{"p":"EM","s":"q25","t":1995.67,"v":-0.055},{"p":"EM","s":"q25","t":1995.97,"v":-0.055},{"p":"EM","s":"q25","t":1996.12,"v":-0.061},{"p":"EM","s":"q25","t":1996.52,"v":-0.072},{"p":"EM","s":"q25","t":1996.92,"v":-0.05},{"p":"EM","s":"q25","t":1997.32,"v":-0.059},{"p":"EM","s":"q25","t":1997.52,"v":-0.052},{"p":"EM","s":"q25","t":1997.67,"v":-0.094},{"p":"EM","s":"q25","t":1997.82,"v":-0.194},{"p":"EM","s":"q25","t":1998.02,"v":-0.205},{"p":"EM","s":"q25","t":1998.17,"v":-0.161},{"p":"EM","s":"q25","t":1998.32,"v":-0.105},{"p":"EM","s":"q25","t":1998.52,"v":-0.139},{"p":"EM","s":"q25","t":1998.72,"v":-0.205},{"p":"EM","s":"q25","t":1998.92,"v":-0.172},{"p":"EM","s":"q25","t":1999.22,"v":-0.111},{"p":"EM","s":"q25","t":1999.52,"v":-0.094},{"p":"EM","s":"q25","t":1999.82,"v":-0.083},{"p":"EM","s":"q25","t":2000.02,"v":-0.078},{"p":"EM","s":"q25","t":2000.32,"v":-0.127},{"p":"EM","s":"q25","t":2000.62,"v":-0.083},{"p":"EM","s":"q25","t":2000.92,"v":-0.105},{"p":"EM","s":"q25","t":2001.42,"v":-0.072},{"p":"EM","s":"q25","t":2001.62,"v":-0.067},{"p":"EM","s":"q25","t":2001.82,"v":-0.105},{"p":"EM","s":"q25","t":2002.22,"v":-0.083},{"p":"EM","s":"q25","t":2002.42,"v":-0.072},{"p":"EM","s":"q25","t":2002.72,"v":-0.1},{"p":"EM","s":"q25","t":2003.12,"v":-0.072},{"p":"EM","s":"q25","t":2003.62,"v":-0.061},{"p":"EM","s":"q25","t":2004.02,"v":-0.078},{"p":"EM","s":"q25","t":2004.32,"v":-0.072},{"p":"EM","s":"q25","t":2004.47,"v":-0.133},{"p":"EM","s":"q25","t":2004.72,"v":-0.072},{"p":"EM","s":"q25","t":2005.22,"v":-0.067},{"p":"EM","s":"q25","t":2005.62,"v":-0.072},{"p":"EM","s":"q25","t":2006.02,"v":-0.078},{"p":"EM","s":"q25","t":2006.32,"v":-0.083},{"p":"EM","s":"q25","t":2006.47,"v":-0.144},{"p":"EM","s":"q25","t":2006.82,"v":-0.083},{"p":"EM","s":"q25","t":2007.12,"v":-0.083},{"p":"EM","s":"q25","t":2007.42,"v":-0.116},{"p":"EM","s":"q25","t":2007.72,"v":-0.15},{"p":"EM","s":"q25","t":2008.02,"v":-0.133},{"p":"EM","s":"q25","t":2008.32,"v":-0.172},{"p":"EM","s":"q25","t":2008.52,"v":-0.161},{"p":"EM","s":"q25","t":2008.67,"v":-0.183},{"p":"EM","s":"q25","t":2008.82,"v":-0.371},{"p":"EM","s":"q25","t":2008.92,"v":-0.349},{"p":"EM","s":"q25","t":2009.12,"v":-0.249},{"p":"EM","s":"q25","t":2009.32,"v":-0.216},{"p":"EM","s":"q25","t":2009.5,"v":-0.166},
{"p":"EM","s":"q25d","t":1981.0,"v":-0.172},{"p":"EM","s":"q25d","t":1981.12,"v":-0.216},{"p":"EM","s":"q25d","t":1981.37,"v":-0.188},{"p":"EM","s":"q25d","t":1981.67,"v":-0.183},{"p":"EM","s":"q25d","t":1981.97,"v":-0.205},{"p":"EM","s":"q25d","t":1982.17,"v":-0.15},{"p":"EM","s":"q25d","t":1982.37,"v":-0.194},{"p":"EM","s":"q25d","t":1982.67,"v":-0.31},{"p":"EM","s":"q25d","t":1982.97,"v":-0.238},{"p":"EM","s":"q25d","t":1983.17,"v":-0.338},{"p":"EM","s":"q25d","t":1983.37,"v":-0.249},{"p":"EM","s":"q25d","t":1983.67,"v":-0.172},{"p":"EM","s":"q25d","t":1983.97,"v":-0.205},{"p":"EM","s":"q25d","t":1984.27,"v":-0.194},{"p":"EM","s":"q25d","t":1984.47,"v":-0.183},{"p":"EM","s":"q25d","t":1984.77,"v":-0.222},{"p":"EM","s":"q25d","t":1985.17,"v":-0.266},{"p":"EM","s":"q25d","t":1985.37,"v":-0.249},{"p":"EM","s":"q25d","t":1985.67,"v":-0.283},{"p":"EM","s":"q25d","t":1985.97,"v":-0.238},{"p":"EM","s":"q25d","t":1986.27,"v":-0.261},{"p":"EM","s":"q25d","t":1986.57,"v":-0.216},{"p":"EM","s":"q25d","t":1986.77,"v":-0.266},{"p":"EM","s":"q25d","t":1987.07,"v":-0.216},{"p":"EM","s":"q25d","t":1987.47,"v":-0.227},{"p":"EM","s":"q25d","t":1987.77,"v":-0.238},{"p":"EM","s":"q25d","t":1987.87,"v":-0.322},{"p":"EM","s":"q25d","t":1988.17,"v":-0.238},{"p":"EM","s":"q25d","t":1988.37,"v":-0.133},{"p":"EM","s":"q25d","t":1988.77,"v":-0.139},{"p":"EM","s":"q25d","t":1988.97,"v":-0.116},{"p":"EM","s":"q25d","t":1989.27,"v":-0.133},{"p":"EM","s":"q25d","t":1989.57,"v":-0.177},{"p":"EM","s":"q25d","t":1989.87,"v":-0.188},{"p":"EM","s":"q25d","t":1990.17,"v":-0.205},{"p":"EM","s":"q25d","t":1990.47,"v":-0.249},{"p":"EM","s":"q25d","t":1990.72,"v":-0.316},{"p":"EM","s":"q25d","t":1990.97,"v":-0.322},{"p":"EM","s":"q25d","t":1991.17,"v":-0.283},{"p":"EM","s":"q25d","t":1991.37,"v":-0.172},{"p":"EM","s":"q25d","t":1991.67,"v":-0.183},{"p":"EM","s":"q25d","t":1991.97,"v":-0.127},{"p":"EM","s":"q25d","t":1992.27,"v":-0.15},{"p":"EM","s":"q25d","t":1992.57,"v":-0.105},{"p":"EM","s":"q25d","t":1992.87,"v":-0.15},{"p":"EM","s":"q25d","t":1993.17,"v":-0.105},{"p":"EM","s":"q25d","t":1993.57,"v":-0.094},{"p":"EM","s":"q25d","t":1993.97,"v":-0.127},{"p":"EM","s":"q25d","t":1994.27,"v":-0.127},{"p":"EM","s":"q25d","t":1994.67,"v":-0.105},{"p":"EM","s":"q25d","t":1995.12,"v":-0.177},{"p":"EM","s":"q25d","t":1995.37,"v":-0.116},{"p":"EM","s":"q25d","t":1995.67,"v":-0.078},{"p":"EM","s":"q25d","t":1995.97,"v":-0.078},{"p":"EM","s":"q25d","t":1996.12,"v":-0.083},{"p":"EM","s":"q25d","t":1996.52,"v":-0.083},{"p":"EM","s":"q25d","t":1996.92,"v":-0.072},{"p":"EM","s":"q25d","t":1997.52,"v":-0.072},{"p":"EM","s":"q25d","t":1997.82,"v":-0.216},{"p":"EM","s":"q25d","t":1998.02,"v":-0.255},{"p":"EM","s":"q25d","t":1998.17,"v":-0.194},{"p":"EM","s":"q25d","t":1998.42,"v":-0.15},{"p":"EM","s":"q25d","t":1998.72,"v":-0.272},{"p":"EM","s":"q25d","t":1998.92,"v":-0.216},{"p":"EM","s":"q25d","t":1999.22,"v":-0.139},{"p":"EM","s":"q25d","t":1999.62,"v":-0.127},{"p":"EM","s":"q25d","t":2000.02,"v":-0.105},{"p":"EM","s":"q25d","t":2000.32,"v":-0.172},{"p":"EM","s":"q25d","t":2000.62,"v":-0.116},{"p":"EM","s":"q25d","t":2001.02,"v":-0.133},{"p":"EM","s":"q25d","t":2001.42,"v":-0.105},{"p":"EM","s":"q25d","t":2001.82,"v":-0.139},{"p":"EM","s":"q25d","t":2002.22,"v":-0.111},{"p":"EM","s":"q25d","t":2002.62,"v":-0.133},{"p":"EM","s":"q25d","t":2003.12,"v":-0.1},{"p":"EM","s":"q25d","t":2003.62,"v":-0.083},{"p":"EM","s":"q25d","t":2004.02,"v":-0.094},{"p":"EM","s":"q25d","t":2004.42,"v":-0.15},{"p":"EM","s":"q25d","t":2004.72,"v":-0.094},{"p":"EM","s":"q25d","t":2005.22,"v":-0.083},{"p":"EM","s":"q25d","t":2005.62,"v":-0.089},{"p":"EM","s":"q25d","t":2006.02,"v":-0.1},{"p":"EM","s":"q25d","t":2006.42,"v":-0.177},{"p":"EM","s":"q25d","t":2006.82,"v":-0.127},{"p":"EM","s":"q25d","t":2007.22,"v":-0.139},{"p":"EM","s":"q25d","t":2007.62,"v":-0.194},{"p":"EM","s":"q25d","t":2008.02,"v":-0.216},{"p":"EM","s":"q25d","t":2008.42,"v":-0.205},{"p":"EM","s":"q25d","t":2008.67,"v":-0.238},{"p":"EM","s":"q25d","t":2008.82,"v":-0.449},{"p":"EM","s":"q25d","t":2009.02,"v":-0.371},{"p":"EM","s":"q25d","t":2009.22,"v":-0.294},{"p":"EM","s":"q25d","t":2009.37,"v":-0.249},{"p":"EM","s":"q25d","t":2009.52,"v":-0.205}
]},
"data":{"name":"d"},
"resolve":{"scale":{"color":"independent","strokeDash":"independent"}},
"vconcat":[
{
"width":993,"height":335,
"title":{"text":"Quantile of Annual simple and de\u2212TARCHed r","subtitle":"\u200c\u2003\u2003\u2003\u2003\u2003\u2003\u2003\u2003\u2003\u2003\u2003\u2003\u2003\u2003\u2003\u2003\u2003\u2003\u2003\u2003\u2003\u2003\u2003\u2003\u2009DM"},
"transform":[{"filter":"datum.p == 'DM'"}],
"resolve":{"axis":{"x":"independent","y":"independent"}},
"layer":[
{"transform":[{"filter":"length(datum.s) == 3"}],
"mark":{"type":"line","strokeWidth":2.8},
"encoding":{
"x":{"field":"t","type":"quantitative","scale":{"domain":[1981,2010.79],"nice":false,"zero":false},"axis":{"orient":"bottom","values":[1982,1986,1990,1994,1998,2002,2006,2010],"format":"d","title":"Time","tickSize":-12,"labelPadding":27.4,"titlePadding":10}},
"y":{"field":"v","type":"quantitative","scale":{"domain":[-0.7,0.4],"nice":false,"zero":false},"axis":{"orient":"left","values":[-0.6,-0.4,-0.2,0,0.2,0.4],"format":"~g","title":["Conditional quantiles of r","\u200c\u2003\u2003\u2003\u2003\u2003\u2003\u2003\u2003\u2003\u2003\u2003\u2003\u2002\u2009DM"],"tickSize":-9,"labelPadding":15,"titlePadding":1,"titleAnchor":"start","titleFont":"DejaVu Sans","titleFontSize":20.5,"titleLineHeight":14}},
"color":{"field":"s","type":"nominal","scale":{"domain":["q25","q50","q75","q25d","q50d","q75d"],"range":["#00ff00","#ff0000","#0000ff","#00ff00","#ff0000","#0000ff"]},
"legend":{"title":null,"orient":"none","legendX":29,"legendY":256,"columns":2,"columnPadding":3,"rowPadding":0,"symbolType":"M-5,0H5","symbolSize":100,"symbolStrokeWidth":3,"labelFontSize":17,"labelOffset":25,"padding":0,"labelExpr":"indexof(datum.value,'25') >= 0 ? 'q₂₅' : indexof(datum.value,'50') >= 0 ? 'q₅₀' : 'q₇₅'"}},
"strokeDash":{"field":"s","type":"nominal","scale":{"domain":["q25","q50","q75","q25d","q50d","q75d"],"range":[[1,0],[1,0],[1,0],[10,6],[10,6],[10,6]]},
"legend":{"title":null,"orient":"none","legendX":29,"legendY":256,"columns":2,"columnPadding":3,"rowPadding":0,"symbolType":"M-5,0H5","symbolSize":100,"symbolStrokeWidth":3,"labelFontSize":17,"labelOffset":25,"padding":0,"labelExpr":"indexof(datum.value,'25') >= 0 ? 'q₂₅' : indexof(datum.value,'50') >= 0 ? 'q₅₀' : 'q₇₅'"}}
}},
{"transform":[{"filter":"length(datum.s) == 4"}],
"mark":{"type":"line","strokeWidth":2.8},
"encoding":{
"x":{"field":"t","type":"quantitative","scale":{"domain":[1981,2010.79],"nice":false,"zero":false},"axis":{"orient":"top","values":[1982,1986,1990,1994,1998,2002,2006,2010],"labels":false,"title":null,"tickSize":-12}},
"y":{"field":"v","type":"quantitative","scale":{"domain":[-0.7,0.4],"nice":false,"zero":false},"axis":{"orient":"right","values":[-0.6,-0.4,-0.2,0,0.2,0.4],"labels":false,"title":null,"tickSize":-9}},
"color":{"field":"s","type":"nominal","scale":{"domain":["q25","q50","q75","q25d","q50d","q75d"],"range":["#00ff00","#ff0000","#0000ff","#00ff00","#ff0000","#0000ff"]}},
"strokeDash":{"field":"s","type":"nominal","scale":{"domain":["q25","q50","q75","q25d","q50d","q75d"],"range":[[1,0],[1,0],[1,0],[10,6],[10,6],[10,6]]}}
}}
]
},
{
"width":993,"height":331,
"title":{"text":"Quantile of Annual simple and de\u2212TARCHed r","subtitle":"\u200c\u2003\u2003\u2003\u2003\u2003\u2003\u2003\u2003\u2003\u2003\u2003\u2003\u2003\u2003\u2003\u2003\u2003\u2003\u2003\u2003\u2003\u2003\u2003\u2003\u2009EM"},
"transform":[{"filter":"datum.p == 'EM'"}],
"resolve":{"axis":{"x":"independent","y":"independent"}},
"layer":[
{"transform":[{"filter":"length(datum.s) == 3"}],
"mark":{"type":"line","strokeWidth":2.8},
"encoding":{
"x":{"field":"t","type":"quantitative","scale":{"domain":[1981,2010.79],"nice":false,"zero":false},"axis":{"orient":"bottom","values":[1982,1986,1990,1994,1998,2002,2006,2010],"format":"d","title":"Time","tickSize":-12,"labelPadding":27.4,"titlePadding":10}},
"y":{"field":"v","type":"quantitative","scale":{"domain":[-0.7,0.4],"nice":false,"zero":false},"axis":{"orient":"left","values":[-0.6,-0.4,-0.2,0,0.2,0.4],"format":"~g","title":["Conditional quantiles of r","\u200c\u2003\u2003\u2003\u2003\u2003\u2003\u2003\u2003\u2003\u2003\u2003\u2003\u2002\u2009EM"],"tickSize":-9,"labelPadding":15,"titlePadding":1,"titleAnchor":"start","titleFont":"DejaVu Sans","titleFontSize":20.5,"titleLineHeight":14}},
"color":{"field":"s","type":"nominal","scale":{"domain":["q25","q50","q75","q25d","q50d","q75d"],"range":["#00ff00","#ff0000","#0000ff","#00ff00","#ff0000","#0000ff"]},"legend":null},
"strokeDash":{"field":"s","type":"nominal","scale":{"domain":["q25","q50","q75","q25d","q50d","q75d"],"range":[[1,0],[1,0],[1,0],[10,6],[10,6],[10,6]]},"legend":null}
}},
{"transform":[{"filter":"length(datum.s) == 4"}],
"mark":{"type":"line","strokeWidth":2.8},
"encoding":{
"x":{"field":"t","type":"quantitative","scale":{"domain":[1981,2010.79],"nice":false,"zero":false},"axis":{"orient":"top","values":[1982,1986,1990,1994,1998,2002,2006,2010],"labels":false,"title":null,"tickSize":-12}},
"y":{"field":"v","type":"quantitative","scale":{"domain":[-0.7,0.4],"nice":false,"zero":false},"axis":{"orient":"right","values":[-0.6,-0.4,-0.2,0,0.2,0.4],"labels":false,"title":null,"tickSize":-9}},
"color":{"field":"s","type":"nominal","scale":{"domain":["q25","q50","q75","q25d","q50d","q75d"],"range":["#00ff00","#ff0000","#0000ff","#00ff00","#ff0000","#0000ff"]},"legend":null},
"strokeDash":{"field":"s","type":"nominal","scale":{"domain":["q25","q50","q75","q25d","q50d","q75d"],"range":[[1,0],[1,0],[1,0],[10,6],[10,6],[10,6]]},"legend":null}
}}
]
}
],
"config":{
"view":{"stroke":"black","strokeWidth":1},
"axis":{"grid":false,"domainColor":"black","domainWidth":1,"tickColor":"black","tickWidth":1,"labelColor":"black","titleColor":"black","labelFont":"Liberation Sans","labelFontSize":16.5,"titleFont":"Liberation Sans","titleFontSize":17.5,"titleFontWeight":"normal","labelFlush":false},
"title":{"anchor":"middle","frame":"group","dx":-14,"font":"Liberation Sans","fontSize":16.3,"fontWeight":"normal","color":"black","subtitleFont":"Liberation Sans","subtitleFontSize":15,"subtitleColor":"black","subtitlePadding":1.5,"offset":-1},
"legend":{"labelFont":"Liberation Sans","labelColor":"black"}
}
}
